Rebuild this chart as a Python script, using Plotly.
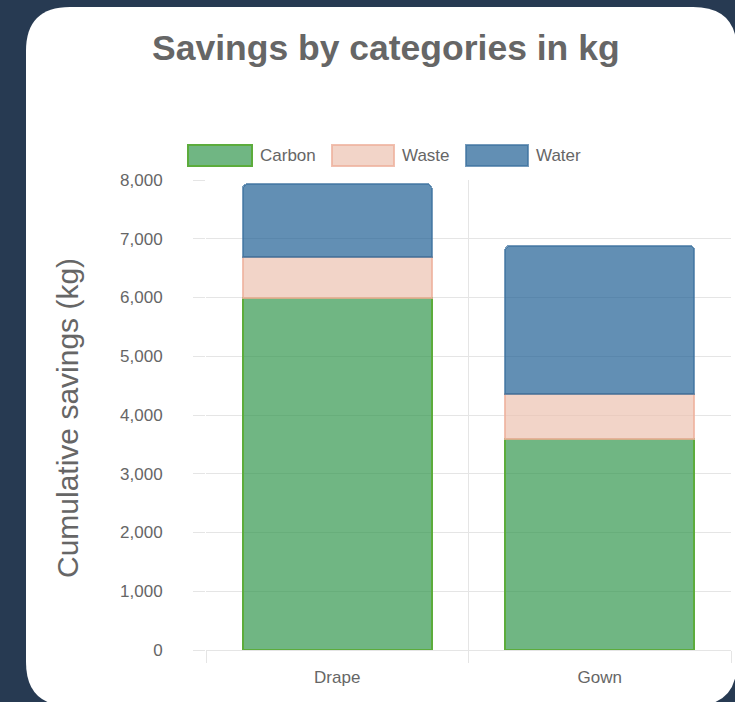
import plotly.graph_objects as go

# ---- data ----
categories = ["Drape", "Gown"]
series_names = ["Carbon", "Waste", "Water"]
carbon = [6000, 3600]
waste = [690, 760]
water = [1240, 2520]
y_ticks = [0, 1000, 2000, 3000, 4000, 5000, 6000, 7000, 8000]

title_text = "Savings by categories in kg"
y_title = "Cumulative savings (kg)"

# ---- style ----
W, H = 735, 702
PL, PR, PT, PB = 206, 731, 180, 650  # plot area in pixels
NAVY = "rgb(39,58,82)"
fills = ["rgba(51,151,79,0.7)", "rgba(236,194,176,0.7)", "rgba(31,96,148,0.7)"]
borders = ["rgb(92,172,60)", "rgba(238,176,156,0.8)", "rgba(60,112,158,0.7)"]
grid = "rgb(229,229,229)"
txt = "#666666"
FONT = "Liberation Sans, Arial, Helvetica, sans-serif"


def X(px):
    return (px - PL) / (PR - PL)


def Y(py):
    return (PB - py) / (PB - PT)


fig = go.Figure()
for name, vals, fc, bc in zip(series_names, [carbon, waste, water], fills, borders):
    fig.add_trace(go.Bar(
        x=categories, y=vals, name=name,
        marker=dict(color=fc, line=dict(color=bc, width=2)),
        width=0.72, showlegend=False, hoverinfo="skip",
    ))

shapes = []
# white rounded card
L, R, T, B, r = 26, 737, 7, 706, 44
path = (
    f"M {X(L+r)},{Y(T)} L {X(R-r)},{Y(T)} Q {X(R)},{Y(T)} {X(R)},{Y(T+r)} "
    f"L {X(R)},{Y(B-r)} Q {X(R)},{Y(B)} {X(R-r)},{Y(B)} "
    f"L {X(L+r)},{Y(B)} Q {X(L)},{Y(B)} {X(L)},{Y(B-r)} "
    f"L {X(L)},{Y(T+r)} Q {X(L)},{Y(T)} {X(L+r)},{Y(T)} Z"
)
shapes.append(dict(type="path", path=path, xref="paper", yref="paper",
                   fillcolor="white", line=dict(width=0), layer="below"))

annotations = []
# custom legend
leg_boxes = [(188, 252), (332, 394), (466, 528)]
for (x0, x1), name, fc, bc in zip(leg_boxes, series_names, fills, borders):
    shapes.append(dict(type="rect", xref="paper", yref="paper",
                       x0=X(x0), x1=X(x1), y0=Y(166), y1=Y(145),
                       fillcolor=fc, line=dict(color=bc, width=2), layer="above"))
    annotations.append(dict(text=name, xref="paper", yref="paper",
                            x=X(x1 + 6), y=Y(156), xanchor="left", yanchor="middle",
                            showarrow=False, font=dict(size=17, color=txt, family=FONT)))

# title
annotations.append(dict(text="<b>" + title_text + "</b>", xref="paper", yref="paper",
                        x=X(386), y=Y(48), xanchor="center", yanchor="middle",
                        showarrow=False, font=dict(size=35.5, color=txt, family=FONT)))
# y-axis title
annotations.append(dict(text=y_title, xref="paper", yref="paper",
                        x=X(67), y=Y(418), xanchor="center", yanchor="middle",
                        textangle=-90, showarrow=False,
                        font=dict(size=30, color=txt, family=FONT)))

fig.update_layout(
    width=W, height=H,
    margin=dict(l=PL, r=W - PR, t=PT, b=H - PB, pad=0),
    paper_bgcolor=NAVY,
    plot_bgcolor="rgba(0,0,0,0)",
    barmode="stack",
    barcornerradius=5,
    shapes=shapes,
    annotations=annotations,
    font=dict(family=FONT, color=txt),
    xaxis=dict(
        range=[-0.5, 1.5], tickson="boundaries", showgrid=True, gridcolor=grid,
        ticks="outside", ticklen=12, tickcolor=grid, tickwidth=1,
        showline=True, linecolor=grid, mirror=False,
        tickfont=dict(size=17, color=txt, family=FONT), ticklabelstandoff=12,
        zeroline=False, fixedrange=True,
    ),
    yaxis=dict(
        range=[0, 8000], tickvals=y_ticks, tickformat=",", showgrid=True,
        gridcolor=grid, ticks="outside", ticklen=12, tickcolor=grid, tickwidth=1,
        showline=False, zeroline=False,
        tickfont=dict(size=17, color=txt, family=FONT), ticklabelstandoff=27,
        fixedrange=True,
    ),
)

fig.write_html(
    "out.html",
    config={"displayModeBar": False},
    post_script="document.body.style.margin='0';document.body.style.background='rgb(39,58,82)';document.body.style.overflow='hidden';",
)
